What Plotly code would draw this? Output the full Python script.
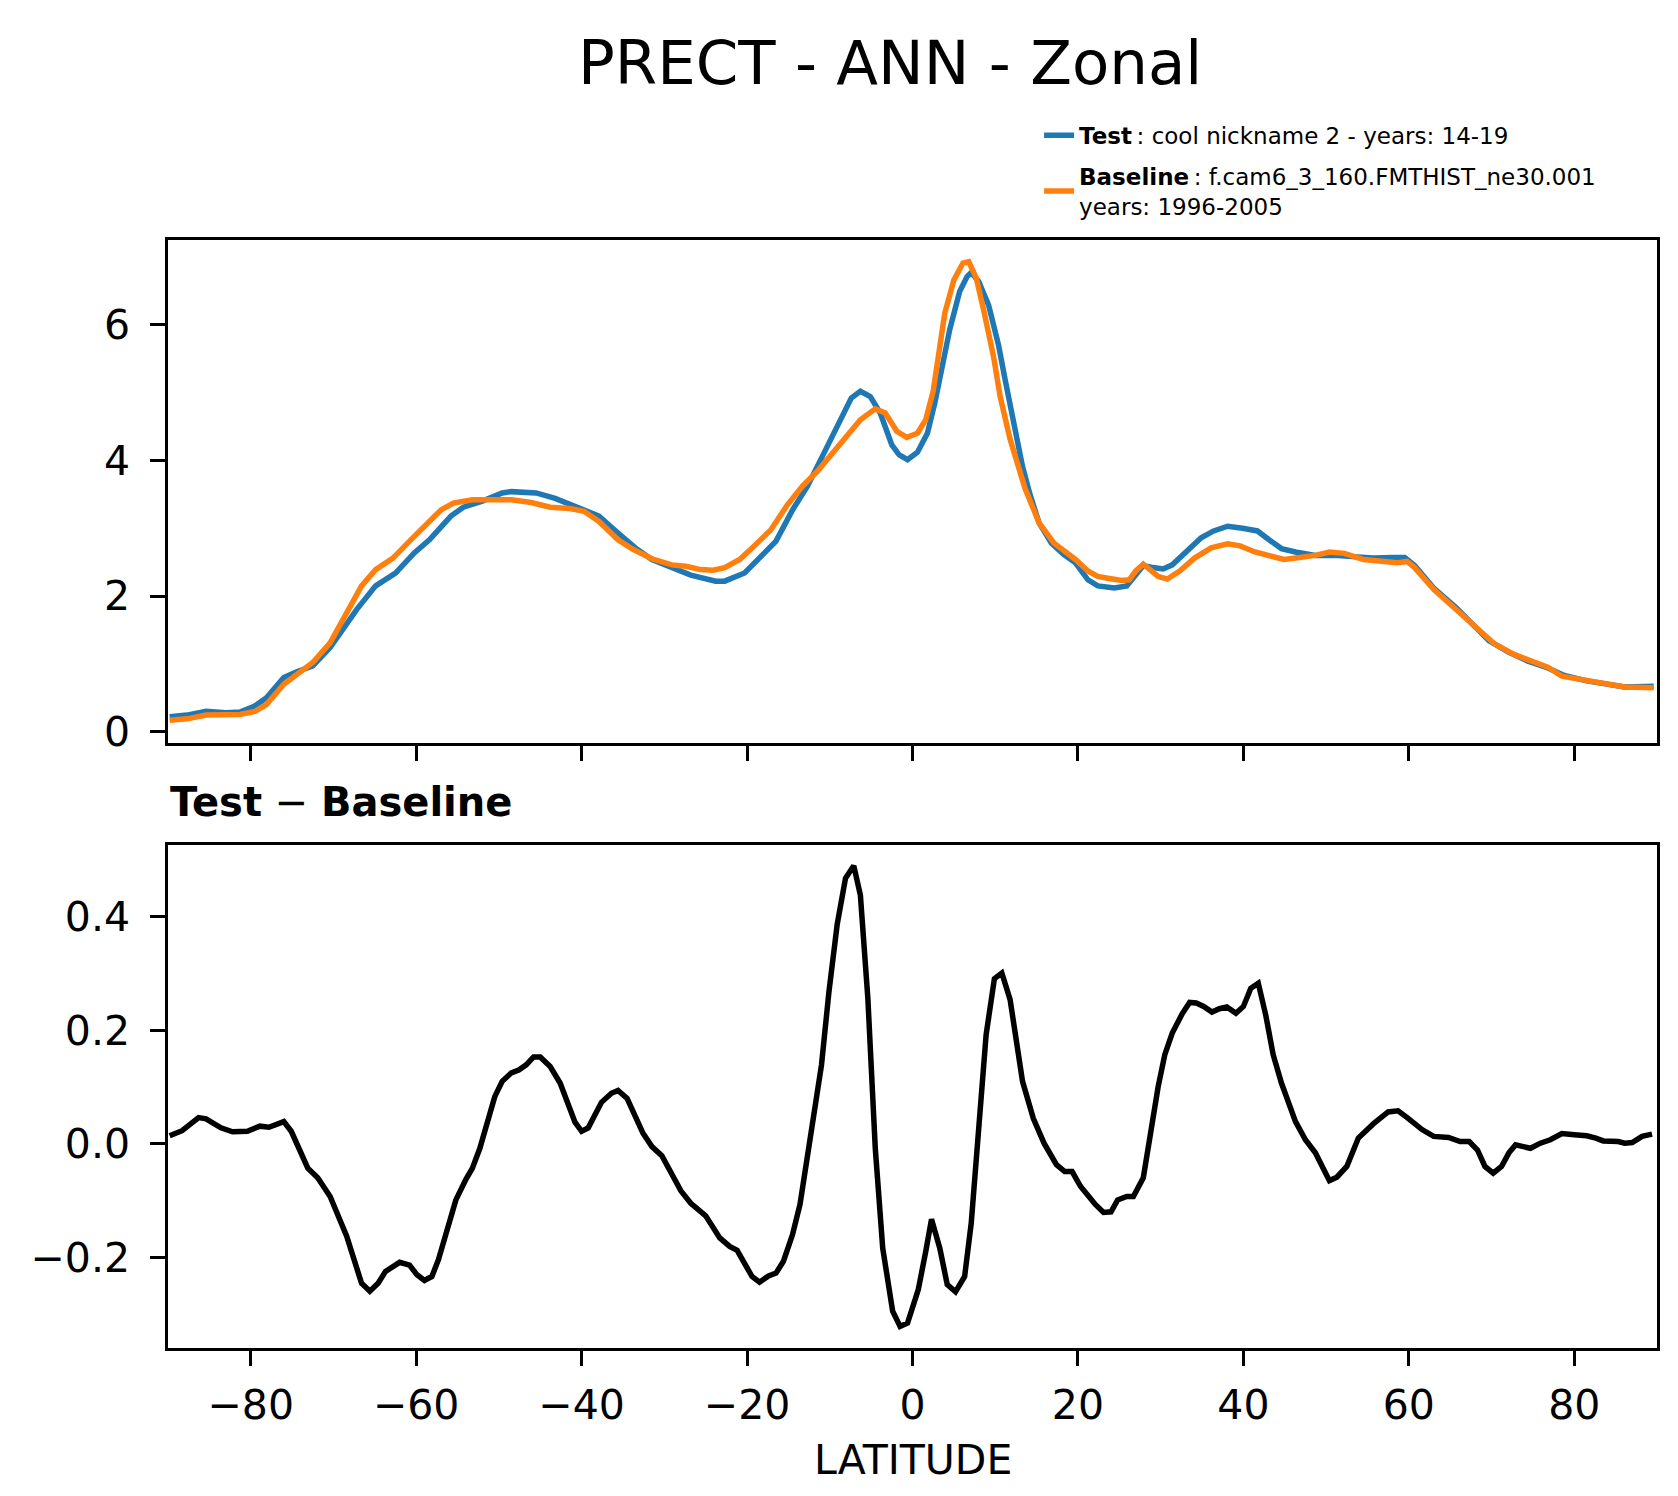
import plotly.graph_objects as go
from plotly.subplots import make_subplots

# zonal mean precipitation
lat_test = [-89.8, -87.7, -85.4, -83.0, -81.3, -79.5, -78.1, -76.0, -74.5, -72.5,
            -70.4, -68.7, -67.2, -64.9, -62.5, -60.2, -58.4, -55.8, -54.3, -52.0,
            -49.6, -48.5, -45.5, -43.2, -40.3, -37.9, -35.6, -33.5, -31.5, -29.1,
            -26.8, -23.8, -22.7, -20.3, -18.6, -16.5, -14.5, -12.7, -10.9, -9.2,
            -7.4, -6.3, -5.1, -3.9, -2.5, -1.6, -0.6, 0.6, 1.8, 2.7,
            3.6, 4.5, 5.7, 6.6, 7.1, 8.0, 9.2, 10.4, 11.2, 12.1,
            13.3, 14.2, 15.3, 16.8, 18.3, 19.7, 21.2, 22.4, 24.4, 25.9,
            27.0, 27.9, 29.1, 30.3, 31.4, 33.2, 34.9, 36.4, 38.1, 39.9,
            41.7, 43.1, 44.6, 46.3, 48.7, 51.0, 53.4, 55.7, 58.0, 59.5,
            60.7, 63.0, 65.7, 68.0, 69.7, 72.1, 74.4, 76.8, 78.8, 81.5,
            83.8, 86.1, 89.6]
test = [0.22, 0.245, 0.30, 0.28, 0.29, 0.38, 0.50, 0.80, 0.88, 0.97,
        1.24, 1.53, 1.80, 2.15, 2.34, 2.64, 2.83, 3.18, 3.31, 3.40,
        3.52, 3.54, 3.52, 3.44, 3.30, 3.18, 2.93, 2.71, 2.54, 2.42,
        2.31, 2.22, 2.22, 2.34, 2.54, 2.81, 3.27, 3.62, 4.06, 4.50,
        4.92, 5.02, 4.94, 4.70, 4.23, 4.08, 4.01, 4.12, 4.40, 4.85,
        5.39, 5.93, 6.49, 6.71, 6.77, 6.64, 6.29, 5.70, 5.19, 4.60,
        3.91, 3.50, 3.08, 2.78, 2.61, 2.49, 2.24, 2.15, 2.12, 2.15,
        2.32, 2.45, 2.42, 2.40, 2.46, 2.66, 2.86, 2.96, 3.03, 3.00,
        2.96, 2.83, 2.70, 2.65, 2.60, 2.60, 2.58, 2.56, 2.57, 2.57,
        2.45, 2.12, 1.83, 1.56, 1.34, 1.17, 1.04, 0.94, 0.83, 0.75,
        0.70, 0.66, 0.67]

lat_base = [-89.8, -87.7, -85.4, -83.0, -81.3, -79.5, -78.1, -76.0, -74.5, -72.5,
            -70.4, -68.4, -66.6, -64.9, -62.8, -60.8, -59.0, -57.0, -55.5, -53.2,
            -50.8, -48.5, -46.1, -43.8, -41.4, -39.7, -37.9, -35.6, -33.8, -31.5,
            -29.1, -27.4, -25.6, -24.1, -22.7, -20.9, -19.2, -17.1, -15.1, -13.3,
            -11.5, -9.8, -8.0, -6.3, -4.5, -3.3, -1.9, -0.7, 0.6, 1.6,
            2.5, 3.9, 5.0, 6.1, 6.8, 7.7, 8.6, 9.8, 10.6, 11.8,
            13.6, 15.3, 17.1, 19.7, 21.2, 22.4, 23.8, 25.3, 26.2, 27.0,
            27.9, 28.8, 29.7, 30.8, 32.3, 34.1, 36.1, 38.1, 39.6, 41.4,
            42.8, 44.9, 46.3, 48.7, 50.4, 52.2, 54.5, 56.9, 58.6, 59.8,
            60.7, 63.0, 65.7, 68.3, 70.3, 72.7, 74.7, 76.8, 78.5, 81.5,
            83.8, 86.1, 89.6]
base = [0.17, 0.19, 0.245, 0.24, 0.255, 0.30, 0.40, 0.70, 0.84, 1.02,
        1.31, 1.75, 2.15, 2.39, 2.56, 2.81, 3.03, 3.27, 3.37, 3.42,
        3.42, 3.42, 3.38, 3.31, 3.29, 3.25, 3.10, 2.83, 2.69, 2.55,
        2.46, 2.44, 2.39, 2.38, 2.42, 2.54, 2.73, 2.98, 3.35, 3.62,
        3.84, 4.08, 4.35, 4.60, 4.76, 4.70, 4.43, 4.34, 4.40, 4.60,
        5.02, 6.17, 6.66, 6.91, 6.93, 6.69, 6.22, 5.53, 4.94, 4.31,
        3.59, 3.08, 2.78, 2.54, 2.37, 2.29, 2.26, 2.23, 2.24, 2.37,
        2.47, 2.39, 2.29, 2.25, 2.37, 2.56, 2.71, 2.77, 2.74, 2.65,
        2.60, 2.54, 2.56, 2.60, 2.65, 2.63, 2.54, 2.51, 2.49, 2.51,
        2.42, 2.10, 1.80, 1.50, 1.30, 1.14, 1.04, 0.95, 0.82, 0.75,
        0.70, 0.66, 0.65]

lat_diff = [-89.8, -88.3, -86.3, -85.4, -83.6, -82.2, -80.4, -78.9, -77.8, -76.0,
            -75.1, -73.1, -71.9, -70.4, -68.4, -66.6, -65.6, -64.6, -63.7, -62.0,
            -60.8, -59.9, -59.0, -58.1, -57.3, -55.2, -54.0, -53.2, -52.3, -51.4,
            -50.5, -49.6, -48.5, -47.6, -46.7, -45.8, -45.0, -43.8, -42.6, -40.8,
            -40.0, -39.2, -37.6, -36.4, -35.6, -34.5, -32.6, -31.5, -30.3, -28.0,
            -26.8, -25.0, -23.3, -22.1, -21.2, -19.4, -18.5, -17.4, -16.5, -15.6,
            -14.5, -13.6, -12.1, -11.0, -10.1, -9.1, -8.1, -7.1, -6.3, -5.4,
            -4.5, -3.6, -2.4, -1.5, -0.6, 0.7, 1.6, 2.3, 3.3, 4.2,
            5.2, 6.3, 7.1, 8.0, 8.9, 9.9, 10.8, 11.8, 13.3, 14.6,
            15.9, 17.4, 18.4, 19.3, 20.3, 22.1, 23.1, 24.0, 24.8, 25.9,
            26.7, 27.9, 28.8, 29.7, 30.5, 31.4, 32.6, 33.5, 34.3, 35.2,
            36.2, 37.1, 38.0, 39.1, 40.0, 40.9, 41.8, 42.7, 43.6, 44.6,
            46.3, 47.5, 48.7, 49.6, 50.4, 51.3, 52.5, 53.9, 55.7, 57.5,
            58.7, 59.8, 61.6, 63.0, 63.9, 64.8, 66.2, 67.3, 68.3, 69.2,
            70.2, 71.2, 72.1, 72.9, 74.7, 75.9, 77.1, 78.5, 80.0, 81.5,
            82.6, 83.5, 85.3, 86.1, 87.0, 88.2, 89.4]
diff = [0.014, 0.023, 0.046, 0.044, 0.028, 0.021, 0.022, 0.031, 0.029, 0.039,
        0.022, -0.043, -0.060, -0.093, -0.163, -0.246, -0.260, -0.246, -0.225, -0.209,
        -0.214, -0.231, -0.241, -0.234, -0.204, -0.099, -0.063, -0.043, -0.008, 0.039,
        0.083, 0.110, 0.125, 0.130, 0.139, 0.153, 0.153, 0.136, 0.107, 0.038,
        0.022, 0.028, 0.073, 0.089, 0.094, 0.080, 0.019, -0.005, -0.021, -0.083,
        -0.105, -0.127, -0.166, -0.181, -0.188, -0.234, -0.244, -0.233, -0.228, -0.207,
        -0.160, -0.107, 0.033, 0.139, 0.268, 0.387, 0.468, 0.490, 0.438, 0.257,
        -0.008, -0.184, -0.295, -0.322, -0.316, -0.257, -0.190, -0.133, -0.184, -0.248,
        -0.261, -0.234, -0.140, 0.022, 0.192, 0.291, 0.301, 0.254, 0.110, 0.045,
        0.001, -0.037, -0.049, -0.049, -0.075, -0.107, -0.121, -0.120, -0.099, -0.093,
        -0.093, -0.060, 0.022, 0.101, 0.157, 0.195, 0.229, 0.249, 0.248, 0.242,
        0.232, 0.238, 0.241, 0.230, 0.242, 0.274, 0.283, 0.227, 0.157, 0.107,
        0.039, 0.007, -0.016, -0.043, -0.065, -0.059, -0.040, 0.010, 0.035, 0.056,
        0.058, 0.046, 0.025, 0.013, 0.012, 0.011, 0.004, 0.004, -0.011, -0.040,
        -0.052, -0.040, -0.016, -0.002, -0.008, 0.001, 0.007, 0.018, 0.016, 0.014,
        0.010, 0.005, 0.004, 0.001, 0.002, 0.013, 0.017]

x_ticks = [-80, -60, -40, -20, 0, 20, 40, 60, 80]
top_ticks = [0, 2, 4, 6]
bot_ticks = [-0.2, 0.0, 0.2, 0.4]

FONT = "DejaVu Sans"
LW = 5.5

fig = make_subplots(rows=2, cols=1, shared_xaxes=True)

fig.add_trace(go.Scatter(x=lat_test, y=test, mode="lines",
                         line=dict(color="#1f77b4", width=LW), legendgroup="test",
                         name="<b>Test</b>\u2009: cool nickname 2 - years: 14-19"),
              row=1, col=1)
fig.add_trace(go.Scatter(x=lat_base, y=base, mode="lines",
                         line=dict(color="#ff7f0e", width=LW), legendgroup="base",
                         name="<b>Baseline</b>\u2009: f.cam6_3_160.FMTHIST_ne30.001<br>years: 1996-2005"),
              row=1, col=1)
fig.add_trace(go.Scatter(x=lat_diff, y=diff, mode="lines",
                         line=dict(color="black", width=LW),
                         showlegend=False),
              row=2, col=1)

def minus(v, fmt):
    return (fmt % v).replace("-", "\u2212")

axis_style = dict(showline=True, mirror=True, linecolor="black", linewidth=3.3,
                  ticks="outside", ticklen=14.6, tickwidth=3.3, tickcolor="black",
                  showgrid=False, zeroline=False,
                  tickfont=dict(family=FONT, size=41, color="black"))

fig.update_xaxes(range=[-90, 90], tickvals=x_ticks,
                 ticktext=[minus(v, "%d") for v in x_ticks],
                 ticklabelstandoff=4, **axis_style)
fig.update_xaxes(showticklabels=False, row=1, col=1)
fig.update_yaxes(ticklabelstandoff=12, **axis_style)
fig.update_yaxes(range=[-0.17, 7.25], tickvals=top_ticks,
                 ticktext=[str(v) for v in top_ticks], row=1, col=1)
fig.update_yaxes(range=[-0.36, 0.527], tickvals=bot_ticks,
                 ticktext=[minus(v, "%.1f") for v in bot_ticks], row=2, col=1)

fig.update_layout(
    width=1678, height=1496,
    margin=dict(l=160, r=29, t=232, b=156),
    paper_bgcolor="white", plot_bgcolor="white",
    font=dict(family=FONT, color="black"),
    yaxis=dict(domain=[0.5458, 1.0]),
    yaxis2=dict(domain=[0.0, 0.4542]),
    legend=dict(x=0.585, y=1.114, xanchor="left", yanchor="top",
                bgcolor="rgba(0,0,0,0)", font=dict(family=FONT, size=23),
                tracegroupgap=8),
    annotations=[
        dict(text="PRECT - ANN - Zonal", x=0.485, y=1.1606, xref="paper", yref="paper",
             showarrow=False, xanchor="center", yanchor="middle",
             font=dict(family=FONT, size=61)),
        dict(text="<b>Test</b> \u2212 <b>Baseline</b>", x=0.0, y=0.4928,
             xref="paper", yref="paper", showarrow=False,
             xanchor="left", yanchor="middle",
             font=dict(family=FONT, size=40)),
        dict(text="LATITUDE", x=0.5, y=-0.101, xref="paper", yref="paper",
             showarrow=False, xanchor="center", yanchor="middle",
             font=dict(family=FONT, size=41)),
    ],
)

fig.write_html("out.html")
